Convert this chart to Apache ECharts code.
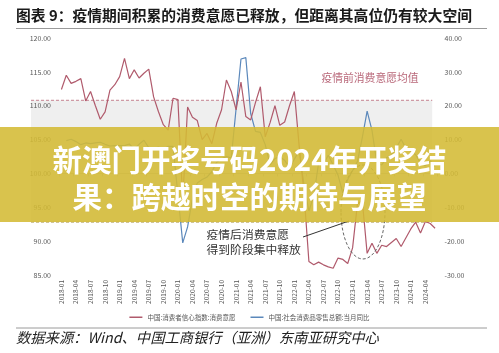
<!DOCTYPE html>
<html>
<head>
<meta charset="utf-8">
<script src="https://cdn.jsdelivr.net/npm/echarts@6/dist/echarts.min.js"></script>
<style>
  html, body { margin: 0; padding: 0; background: #fff; }
  #chart { width: 499px; height: 353px; }
</style>
</head>
<body>
<div id="chart"></div>
<script>
  // 月份 2018-01 ~ 2024-06
  var months = [];
  for (var yr = 2018; yr <= 2024; yr++) {
    for (var mo = 1; mo <= 12; mo++) {
      if (yr == 2024 && mo > 6) break;
      months.push(yr + '-' + (mo < 10 ? '0' + mo : mo));
    }
  }

  // 中国:消费者信心指数:消费意愿 (左轴)
  var willingness = [
    112.4, 114.5, 113.3, 113.6, 114.0, 110.7, 112.1, 110.0, 108.0, 109.1, 112.3, 113.1,
    114.3, 117.0, 114.0, 115.3, 114.1, 114.8, 115.4, 111.3, 109.1, 107.2, 106.4, 111.1,
    110.9, 96.0, 109.8, 108.3, 107.8, 105.0, 105.9, 104.4, 107.4, 109.4, 113.8, 112.1,
    109.4, 113.5, 108.4, 107.9, 110.5, 112.8, 105.4, 107.5, 110.0, 107.1, 107.6, 110.0,
    112.1, 104.0, 97.0, 87.0, 86.5, 86.9, 86.5, 86.2, 86.0, 87.5, 87.3, 86.7,
    89.0, 95.5, 96.0, 88.2, 89.7, 88.2, 89.4, 89.2, 89.8, 90.4, 89.2, 90.5,
    91.8, 92.8, 91.2, 92.9, 92.6, 91.9
  ];

  // 中国:社会消费品零售总额:当月同比 (右轴, 1月无单月数据)
  var retail = [
    null, 9.7, 10.1, 9.4, 8.5, 9.0, 8.8, 9.0, 9.2, 8.6, 8.1, 8.2,
    null, 8.2, 8.7, 7.2, 8.6, 9.8, 7.6, 7.5, 7.8, 7.2, 8.0, 8.0,
    null, -20.5, -15.8, -7.5, -2.8, -1.8, -1.1, 0.5, 3.3, 4.3, 5.0, 4.6,
    null, 33.8, 34.2, 17.7, 12.4, 12.1, 8.5, 2.5, 4.4, 4.9, 3.9, 1.7,
    null, 6.7, -3.5, -11.1, -6.7, 3.1, 2.7, 5.4, 2.5, -0.5, -5.9, -1.8,
    null, 3.5, 10.6, 18.4, 12.7, 3.1, 2.5, 4.6, 5.5, 7.6, 10.1, 7.4,
    null, 5.5, 3.1, 2.3, 3.7, 2.0
  ];

  // 疫情前消费意愿均值区间
  var bandTop = 110.8;
  var bandBottom = 92.8;

  var redColor = '#b05a6c';
  var blueColor = '#5b88bb';
  var cjk = '"Noto Sans CJK SC", "Noto Sans", sans-serif';

  var chart = echarts.init(document.getElementById('chart'));

  var option = {
    animation: false,
    backgroundColor: '#fff',
    textStyle: { fontFamily: cjk },
    grid: { left: 59, right: 61.5, top: 38, bottom: 78 },
    legend: {
      top: 309,
      left: 'center',
      icon: 'rect',
      itemWidth: 13,
      itemHeight: 1.5,
      itemGap: 15,
      textStyle: { fontSize: 6.5, color: '#555', fontFamily: cjk },
      data: ['中国:消费者信心指数:消费意愿', '中国:社会消费品零售总额:当月同比']
    },
    xAxis: {
      type: 'category',
      data: months,
      boundaryGap: true,
      axisLine: { lineStyle: { color: '#c0c0c0' } },
      axisTick: { show: true, interval: 2, length: 3, lineStyle: { color: '#c0c0c0' } },
      axisLabel: { interval: 2, rotate: 90, fontSize: 6.5, color: '#555', margin: 5 },
      splitLine: { show: false }
    },
    yAxis: [{
      type: 'value',
      min: 85,
      max: 120,
      interval: 5,
      axisLine: { show: false },
      axisTick: { show: false },
      splitLine: { show: false },
      axisLabel: {
        fontSize: 7, color: '#595959', margin: 8,
        formatter: function (v) { return v.toFixed(2); }
      }
    }, {
      type: 'value',
      min: -30,
      max: 40,
      interval: 10,
      axisLine: { show: false },
      axisTick: { show: false },
      splitLine: { show: false },
      axisLabel: {
        fontSize: 7, color: '#595959', margin: 7,
        formatter: function (v) { return v.toFixed(2); }
      }
    }],
    series: [{
      name: '中国:消费者信心指数:消费意愿',
      type: 'line',
      yAxisIndex: 0,
      data: willingness,
      symbol: 'none',
      z: 3,
      itemStyle: { color: redColor },
      lineStyle: { color: redColor, width: 1.2 }
    }, {
      name: '中国:社会消费品零售总额:当月同比',
      type: 'line',
      yAxisIndex: 1,
      data: retail,
      connectNulls: true,
      symbol: 'none',
      z: 2,
      itemStyle: { color: blueColor },
      lineStyle: { color: blueColor, width: 1.2 }
    }]
  };
  chart.setOption(option);

  // 用坐标轴换算区间位置
  var yTop = chart.convertToPixel({ yAxisIndex: 0 }, bandTop);
  var yBot = chart.convertToPixel({ yAxisIndex: 0 }, bandBottom);
  var xRight = chart.convertToPixel({ xAxisIndex: 0 }, months[76]) + 2;
  var bandLeft = 31;

  chart.setOption({
    graphic: [
      // 标题
      { type: 'text', x: 16, y: 15, z: 10,
        style: { text: '图表 9：疫情期间积累的消费意愿已释放，但距离其高位仍有较大空间',
          font: 'bold 14.8px ' + cjk, fill: '#1a1a1a', verticalAlign: 'middle' } },
      { type: 'line', z: 10, shape: { x1: 16, y1: 28.5, x2: 487, y2: 28.5 },
        style: { stroke: '#9a9a9a', lineWidth: 1 } },
      // 均值区间
      { type: 'rect', z: -1, silent: true,
        shape: { x: bandLeft, y: yTop, width: xRight - bandLeft, height: yBot - yTop },
        style: { fill: '#efefef' } },
      { type: 'line', z: 1, shape: { x1: bandLeft, y1: yTop, x2: xRight, y2: yTop },
        style: { stroke: '#cf9aa5', lineWidth: 1.2, lineDash: [3, 2] } },
      { type: 'line', z: 1, shape: { x1: bandLeft, y1: yBot, x2: xRight, y2: yBot },
        style: { stroke: '#b9a862', lineWidth: 1, lineDash: [3, 2] } },
      { type: 'text', x: 370, y: 77.5, z: 10,
        style: { text: '疫情前消费意愿均值', font: '10.8px ' + cjk, fill: '#b9687a',
          align: 'center', verticalAlign: 'middle' } },
      // 疫情后释放的标注
      { type: 'ellipse', z: 50, shape: { cx: 363, cy: 212, rx: 22, ry: 47 },
        style: { fill: 'none', stroke: '#666', lineWidth: 1, lineDash: [3, 2] } },
      { type: 'line', z: 50, shape: { x1: 303, y1: 237, x2: 349, y2: 221 },
        style: { stroke: '#333', lineWidth: 1 } },
      { type: 'text', x: 206.5, y: 235, z: 50,
        style: { text: '疫情后消费意愿', font: '11.8px ' + cjk, fill: '#333', verticalAlign: 'middle' } },
      { type: 'text', x: 206.5, y: 249.5, z: 50,
        style: { text: '得到阶段集中释放', font: '11.8px ' + cjk, fill: '#333', verticalAlign: 'middle' } },
      // 底部来源
      { type: 'line', z: 10, shape: { x1: 16, y1: 328, x2: 487, y2: 328 },
        style: { stroke: '#9a9a9a', lineWidth: 1 } },
      { type: 'text', x: 16, y: 338, z: 10,
        style: { text: '数据来源：Wind、中国工商银行（亚洲）东南亚研究中心',
          font: 'italic 14.3px ' + cjk, fill: '#222', verticalAlign: 'middle' } },
      // 横幅
      { type: 'rect', z: 100, silent: true,
        shape: { x: 0, y: 127, width: 499, height: 95 },
        style: { fill: 'rgba(212,187,52,0.88)' } },
      { type: 'text', x: 249.5, y: 160, z: 101,
        style: { text: '新澳门开奖号码2024年开奖结', font: 'bold 29.5px ' + cjk, fill: '#fff',
          align: 'center', verticalAlign: 'middle' } },
      { type: 'text', x: 249.5, y: 197, z: 101,
        style: { text: '果：跨越时空的期待与展望', font: 'bold 29.5px ' + cjk, fill: '#fff',
          align: 'center', verticalAlign: 'middle' } }
    ]
  });
</script>
</body>
</html>
